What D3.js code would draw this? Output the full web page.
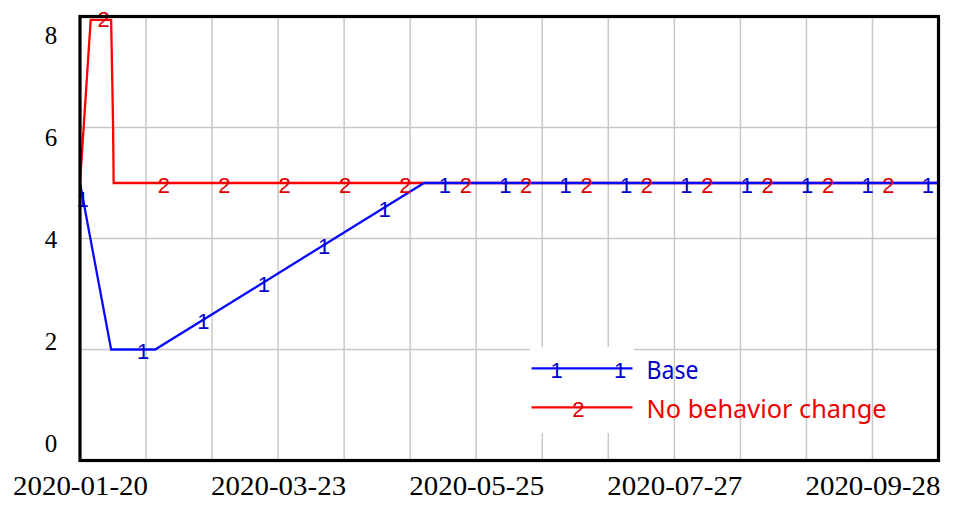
<!DOCTYPE html>
<html>
<head>
<meta charset="utf-8">
<script src="https://cdn.jsdelivr.net/npm/d3@7"></script>
<style>
  html, body { margin: 0; padding: 0; background: #fff; }
  svg { display: block; }
</style>
</head>
<body>
<svg id="chart" width="957" height="511"></svg>
<script>
// ---------------- data ----------------
const startDate = "2020-01-20";
const endDate = "2020-10-19";
// days since start date, and values
const baseDays = [0, 9.9, 23.9, 109.4, 273];
const baseValues = [5.0, 2.0, 2.0, 5.0, 5.0];
const noChangeDays = [0, 3.4, 9.9, 10.5, 10.7, 273];
const noChangeValues = [5.0, 7.94, 7.94, 6.1, 5.0, 5.0];
const seriesNames = ["Base", "No behavior change"];
const xTickLabels = ["2020-01-20", "2020-03-23", "2020-05-25", "2020-07-27", "2020-09-28"];
const yTickLabels = [0, 2, 4, 6, 8];

// ---------------- layout ----------------
const SERIF = '"Liberation Serif", "Times New Roman", serif';
const SANS = '"Liberation Sans", Arial, sans-serif';
const LEG = '"Noto Sans", sans-serif';
const L = 80, R = 938.5, T = 16.5, B = 460.5;
const parse = d3.utcParse("%Y-%m-%d");
const fmt = d3.utcFormat("%Y-%m-%d");
const t0 = parse(startDate);
const dayToDate = d => new Date(t0.getTime() + d * 864e5);

const x = d3.scaleUtc().domain([t0, parse(endDate)]).range([L, R]);
const y = d3.scaleLinear().domain([0, 8]).range([B, T]);
const yLab = d3.scaleLinear().domain([0, 8]).range([443.3, 34.7]);

const svg = d3.select("#chart");
svg.append("rect").attr("width", 957).attr("height", 511).attr("fill", "#fff");

// grid
const gridDays = d3.range(21, 273, 21);
svg.append("g").selectAll("line").data(gridDays).join("line")
  .attr("x1", d => x(dayToDate(d))).attr("x2", d => x(dayToDate(d)))
  .attr("y1", T).attr("y2", B)
  .attr("stroke", "#c8c8c8").attr("stroke-width", 1.5);
svg.append("g").selectAll("line").data(yTickLabels.filter(v => v > 0 && v < 8)).join("line")
  .attr("x1", L).attr("x2", R)
  .attr("y1", d => y(d)).attr("y2", d => y(d))
  .attr("stroke", "#c8c8c8").attr("stroke-width", 1.5);

// series
const baseData = baseDays.map((d, i) => ({ d, v: baseValues[i] }));
const redData = noChangeDays.map((d, i) => ({ d, v: noChangeValues[i] }));
const line = d3.line().x(p => x(dayToDate(p.d))).y(p => y(p.v));

svg.append("defs").append("clipPath").attr("id", "clip")
  .append("rect").attr("x", L).attr("y", T - 2).attr("width", R - L).attr("height", B - T + 2);

const plot = svg.append("g").attr("clip-path", "url(#clip)");
plot.append("path").datum(redData).attr("d", line)
  .attr("fill", "none").attr("stroke", "#ff0000").attr("stroke-width", 2.3);
plot.append("path").datum(baseData).attr("d", line)
  .attr("fill", "none").attr("stroke", "#0a0aff").attr("stroke-width", 2.3);

// markers
function interp(data, d) {
  for (let i = 1; i < data.length; i++) {
    if (d <= data[i].d) {
      const a = data[i - 1], b = data[i];
      const t = (d - a.d) / (b.d - a.d);
      return a.v + t * (b.v - a.v);
    }
  }
  return data[data.length - 1].v;
}
const step = 19.2;
const baseMarks = d3.range(15).map(k => 0.86 + k * step);
const redMarks = d3.range(14).map(k => 7.5 + k * step);

svg.append("g").selectAll("text").data(redMarks).join("text")
  .attr("x", d => x(dayToDate(d)))
  .attr("y", (d, i) => y(interp(redData, d)) + (i === 0 ? 7.5 : 9.5))
  .attr("text-anchor", "middle")
  .style("font-family", SANS).style("font-size", "22px").attr("fill", "#dd0000")
  .text("2");
svg.append("g").selectAll("text").data(baseMarks).join("text")
  .attr("x", d => x(dayToDate(d)))
  .attr("y", d => y(interp(baseData, d)) + 9.5)
  .attr("text-anchor", "middle")
  .style("font-family", SANS).style("font-size", "22px").attr("fill", "#0000c8")
  .text("1");

// frame
svg.append("rect").attr("x", L).attr("y", T).attr("width", R - L).attr("height", B - T)
  .attr("fill", "none").attr("stroke", "#000").attr("stroke-width", 3.2);

// axes
const xAxis = d3.axisBottom(x)
  .tickValues(xTickLabels.map(parse))
  .tickFormat(fmt).tickSize(0).tickPadding(0);
const gx = svg.append("g").attr("transform", `translate(0,${B})`).call(xAxis);
gx.select(".domain").remove();
gx.selectAll("text")
  .attr("y", 34.5).attr("dy", null)
  .style("font-family", SERIF).style("font-size", "28px").attr("fill", "#000")
  .attr("textLength", 135).attr("lengthAdjust", "spacingAndGlyphs");

const yAxis = d3.axisLeft(yLab).tickValues(yTickLabels).tickFormat(d3.format("d"))
  .tickSize(0).tickPadding(0);
const gy = svg.append("g").attr("transform", "translate(51,0)").call(yAxis);
gy.select(".domain").remove();
gy.selectAll("text")
  .attr("text-anchor", "middle").attr("x", 0).attr("dy", "0.34em")
  .style("font-family", SERIF).style("font-size", "25px").attr("fill", "#000");

// legend
const lg = svg.append("g");
lg.append("rect").attr("x", 530).attr("y", 347).attr("width", 104).attr("height", 86).attr("fill", "#fff");
const legendRows = [
  { name: seriesNames[0], y: 368.3, color: "#0a0aff", tcolor: "#0000c8", label: "1", marks: [556.7, 620], tl: 52 },
  { name: seriesNames[1], y: 407.3, color: "#ff0000", tcolor: "#ee0000", label: "2", marks: [578.3], tl: 240 }
];
legendRows.forEach(r => {
  lg.append("line").attr("x1", 531.5).attr("x2", 632.5).attr("y1", r.y).attr("y2", r.y)
    .attr("stroke", r.color).attr("stroke-width", 2.3);
  r.marks.forEach(m => {
    lg.append("text").attr("x", m).attr("y", r.y + 9.5).attr("text-anchor", "middle")
      .style("font-family", SANS).style("font-size", "22px")
      .attr("fill", r.label === "1" ? "#0000c8" : "#dd0000").text(r.label);
  });
  lg.append("text").attr("x", 646.5).attr("y", r.y + 10.5)
    .style("font-family", LEG).style("font-size", "25px")
    .attr("fill", r.tcolor)
    .attr("textLength", r.tl).attr("lengthAdjust", "spacingAndGlyphs")
    .text(r.name);
});
</script>
</body>
</html>
